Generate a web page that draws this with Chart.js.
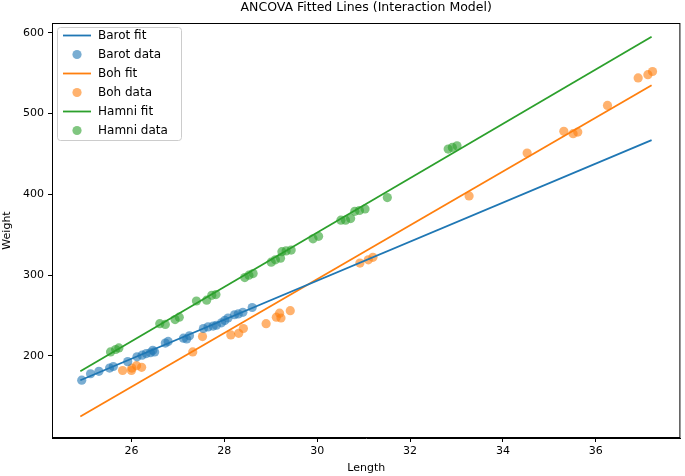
<!DOCTYPE html>
<html>
<head>
<meta charset="utf-8">
<script src="https://cdn.jsdelivr.net/npm/chart.js@4/dist/chart.umd.min.js"></script>
<style>
  html, body { margin: 0; padding: 0; background: #fff; }
  #wrap { width: 685px; height: 476px; position: relative; }
</style>
</head>
<body>
<div id="wrap"><canvas id="ancovaChart"></canvas></div>
<script>
// fitted line end points (same x range for all groups)
const fitX = [24.9, 37.2];
const barotFit = [170, 467];
const bohFit = [125, 535];
const hamniFit = [181, 595];

// observed data
const barotLength = [24.93, 25.12, 25.3, 25.53, 25.61, 25.92, 26.12, 26.23, 26.32, 26.41, 26.46, 26.5,
    26.73, 26.79, 27.12, 27.19, 27.25, 27.55, 27.65, 27.76, 27.83, 27.94, 28.01, 28.08, 28.22, 28.3, 28.4, 28.6];
const barotWeight = [170, 178, 181, 185, 187, 193, 199, 201, 203, 204, 207, 205,
    216, 218, 222, 221, 225, 234, 236, 237, 238, 241, 244, 247, 251, 252, 254, 260];

const bohLength = [25.81, 26.0, 26.01, 26.11, 26.22, 27.32, 27.53, 28.14, 28.31, 28.41, 28.9, 29.12, 29.19,
    29.22, 29.42, 30.92, 31.1, 31.2, 33.27, 34.52, 35.31, 35.51, 35.61, 36.25, 36.91, 37.12, 37.22];
const bohWeight = [182, 182, 185, 188, 186, 205, 224, 226, 228, 234, 240, 248, 253,
    247, 256, 315, 319, 322, 398, 451, 478, 475, 477, 510, 544, 548, 552];

const hamniLength = [25.55, 25.66, 25.73, 26.61, 26.73, 26.94, 27.03, 27.4, 27.62, 27.73, 27.82, 28.44, 28.53,
    28.62, 29.01, 29.1, 29.21, 29.24, 29.33, 29.44, 29.91, 30.03, 30.51, 30.61, 30.72, 30.81, 30.91, 31.03,
    31.51, 32.82, 32.91, 33.01];
const hamniWeight = [205, 208, 210, 240, 239, 245, 248, 268, 269, 275, 276, 297, 300,
    302, 316, 319, 321, 329, 330, 331, 345, 348, 368, 368, 370, 379, 380, 382,
    396, 456, 458, 460];

const xTicks = [26, 28, 30, 32, 34, 36];
const yTicks = [200, 300, 400, 500, 600];

const BLUE = '#1f77b4', ORANGE = '#ff7f0e', GREEN = '#2ca02c';
const FONT = "'DejaVu Sans', sans-serif";

function alpha(hex, a) {
    const n = parseInt(hex.slice(1), 16);
    return `rgba(${n >> 16}, ${(n >> 8) & 255}, ${n & 255}, ${a})`;
}

function pts(xs, ys) {
    return xs.map((x, i) => ({ x: x, y: ys[i] }));
}

function fitSet(label, ys, color) {
    return {
        label: label,
        data: pts(fitX, ys),
        showLine: true,
        borderColor: color,
        borderWidth: 1.8,
        pointRadius: 0,
        fill: false,
        order: 1
    };
}

function dataSet(label, xs, ys, color) {
    return {
        label: label,
        data: pts(xs, ys),
        showLine: false,
        backgroundColor: alpha(color, 0.6),
        borderWidth: 0,
        pointRadius: 4.6,
        order: 2
    };
}

const legendItems = [
    { text: 'Barot fit', color: BLUE, kind: 'line' },
    { text: 'Barot data', color: BLUE, kind: 'dot' },
    { text: 'Boh fit', color: ORANGE, kind: 'line' },
    { text: 'Boh data', color: ORANGE, kind: 'dot' },
    { text: 'Hamni fit', color: GREEN, kind: 'line' },
    { text: 'Hamni data', color: GREEN, kind: 'dot' }
];

// title, axis labels, frame and the matplotlib-like legend
const decorations = {
    id: 'decorations',
    afterDraw(chart) {
        const ctx = chart.ctx;
        const area = chart.chartArea;
        ctx.save();

        ctx.strokeStyle = '#000';
        ctx.lineWidth = 1;
        ctx.strokeRect(area.left + 0.5, area.top + 0.5, area.right - area.left - 1, area.bottom - area.top - 1);

        ctx.fillStyle = '#000';
        ctx.font = `12.5px ${FONT}`;
        ctx.textAlign = 'center';
        ctx.textBaseline = 'alphabetic';
        ctx.fillText('ANCOVA Fitted Lines (Interaction Model)', (area.left + area.right) / 2, 11);

        ctx.font = `11px ${FONT}`;
        ctx.textBaseline = 'middle';
        ctx.fillText('Length', (area.left + area.right) / 2, 468);
        ctx.save();
        ctx.translate(7, (area.top + area.bottom) / 2);
        ctx.rotate(-Math.PI / 2);
        ctx.fillText('Weight', 0, 0);
        ctx.restore();

        // legend box
        const bx = 57.5, by = 27.5, bw = 124, bh = 113, r = 3;
        ctx.beginPath();
        ctx.moveTo(bx + r, by);
        ctx.arcTo(bx + bw, by, bx + bw, by + bh, r);
        ctx.arcTo(bx + bw, by + bh, bx, by + bh, r);
        ctx.arcTo(bx, by + bh, bx, by, r);
        ctx.arcTo(bx, by, bx + bw, by, r);
        ctx.closePath();
        ctx.fillStyle = 'rgba(255,255,255,0.8)';
        ctx.fill();
        ctx.strokeStyle = '#cccccc';
        ctx.stroke();

        ctx.font = `12px ${FONT}`;
        ctx.textAlign = 'left';
        legendItems.forEach((item, i) => {
            const y = 35.5 + i * 19;
            if (item.kind === 'line') {
                ctx.strokeStyle = item.color;
                ctx.lineWidth = 1.8;
                ctx.beginPath();
                ctx.moveTo(63, y);
                ctx.lineTo(91, y);
                ctx.stroke();
            } else {
                ctx.fillStyle = alpha(item.color, 0.6);
                ctx.beginPath();
                ctx.arc(77, y, 4.6, 0, Math.PI * 2);
                ctx.fill();
            }
            ctx.fillStyle = '#000';
            ctx.fillText(item.text, 98, y + 0.5);
        });

        ctx.restore();
    }
};

new Chart(document.getElementById('ancovaChart'), {
    type: 'scatter',
    data: {
        datasets: [
            fitSet('Barot fit', barotFit, BLUE),
            dataSet('Barot data', barotLength, barotWeight, BLUE),
            fitSet('Boh fit', bohFit, ORANGE),
            dataSet('Boh data', bohLength, bohWeight, ORANGE),
            fitSet('Hamni fit', hamniFit, GREEN),
            dataSet('Hamni data', hamniLength, hamniWeight, GREEN)
        ]
    },
    options: {
        responsive: true,
        maintainAspectRatio: false,
        animation: false,
        layout: { padding: { top: 23, right: 3, left: 0, bottom: 0 } },
        scales: {
            x: {
                type: 'linear',
                min: 24.29,
                max: 37.82,
                afterBuildTicks: (scale) => { scale.ticks = xTicks.map(v => ({ value: v })); },
                afterFit: (scale) => { scale.height = 38; },
                grid: { drawOnChartArea: false, drawTicks: true, tickLength: 4, color: '#000' },
                border: { display: true, color: '#000' },
                ticks: { color: '#000', padding: 3, maxRotation: 0, font: { family: FONT, size: 11 } }
            },
            y: {
                type: 'linear',
                min: 98.5,
                max: 612,
                afterBuildTicks: (scale) => { scale.ticks = yTicks.map(v => ({ value: v })); },
                afterFit: (scale) => { scale.width = 52; },
                grid: { drawOnChartArea: false, drawTicks: true, tickLength: 4, color: '#000' },
                border: { display: true, color: '#000' },
                ticks: { color: '#000', padding: 4, font: { family: FONT, size: 11 } }
            }
        },
        plugins: {
            legend: { display: false },
            tooltip: { enabled: false }
        }
    },
    plugins: [decorations]
});
</script>
</body>
</html>
